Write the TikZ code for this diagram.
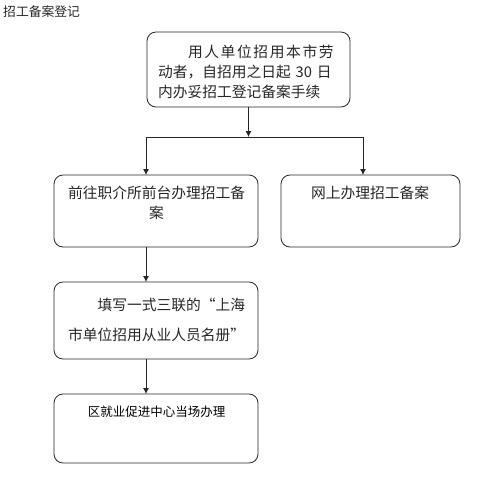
\documentclass[tikz,border=0pt]{standalone}
\usepackage{fontspec}
\newfontfamily\cjk{Noto Sans CJK SC}
\usetikzlibrary{arrows.meta}

\begin{document}
\begin{tikzpicture}[x=1pt,y=-1pt,
B/.style={rounded corners=9pt, draw=black!85, line width=0.8pt, outer sep=0pt},
T/.style={font=\cjk\fontsize{14.75}{20}\selectfont, text=black!85, inner sep=0pt, align=center},
lA/.style={line width=0.8pt, draw=black!85, -{Latex[length=6pt,width=6pt]}},
lN/.style={line width=0.8pt, draw=black!85}]
%
\useasboundingbox (0,0) rectangle (500,483);

\node[T, font=\cjk\fontsize{12.8}{16}\selectfont, anchor=west] at (3,12) (title) {招工备案登记};

\node[B, minimum width=203pt, minimum height=75pt] at (248.5,69.5) (reg) {};
\node[T, align=left, text width=177pt] at (246.5,72) (regT) {\hspace*{30pt}{\addfontfeature{LetterSpace=11}用人单位招用本市劳}\\动者，自招用之日起 30 日\\内办妥招工登记备案手续};

\node[B, minimum width=204pt, minimum height=72pt] at (156,211) (desk) {};
\node[T] at (156.5,203) (deskT) {前往职介所前台办理招工备\\案};

\node[B, minimum width=179pt, minimum height=72pt] at (370.5,211) (web) {};
\node[T] at (370,193) (webT) {网上办理招工备案};

\node[B, minimum width=204pt, minimum height=77pt] at (156,320.5) (form) {};
\node[T, font=\cjk\fontsize{14.75}{30}\selectfont, align=right, text width=177pt] at (156.5,320) (formT) {填写一式三联的“上海\\市单位招用从业人员名册”};

\node[B, minimum width=204pt, minimum height=69pt] at (156,428.5) (centre) {};
\node[T, text=black, font=\cjk\fontsize{12.5}{16}\selectfont] at (156.5,412) (centreT) {区就业促进中心当场办理};

% split line
\coordinate (jL) at (146,137);
\coordinate (jR) at (363,137);

\draw[lA] (reg.south) -- (reg.south |- jL);
\draw[lN] (jL) -- (jR);
\draw[lA] (jL) -- (jL |- desk.north);
\draw[lA] (jR) -- (jR |- web.north);

\draw[lA] (jL |- desk.south) -- (jL |- form.north);
\draw[lA] (jL |- form.south) -- (jL |- centre.north);

\end{tikzpicture}
\end{document}
